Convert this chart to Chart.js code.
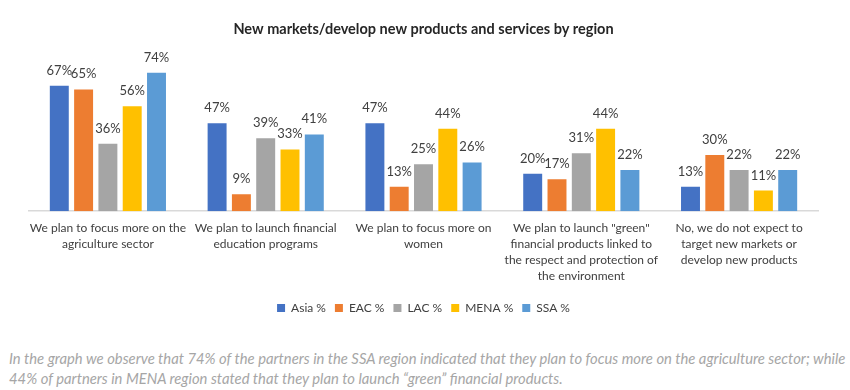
<!DOCTYPE html>
<html>
<head>
<meta charset="utf-8">
<script src="https://cdn.jsdelivr.net/npm/chart.js"></script>
<style>
body { margin: 0; background: #fff; }
#wrap { position: relative; width: 850px; height: 390px; }
#chart { position: absolute; left: 0; top: 0; }
#note { position: absolute; left: 9px; top: 348px; width: 841px; white-space: nowrap; font: italic 14.8px Lato, sans-serif; line-height: 20px; color: #a6a6a6; }
</style>
</head>
<body>
<div id="wrap">
<canvas id="chart" width="850" height="330"></canvas>
<div id="note">In the graph we observe that 74% of the partners in the SSA region indicated that they plan to focus more on the agriculture sector; while<br>44% of partners in MENA region stated that they plan to launch “green” financial products.</div>
</div>
<script>
// categories (wrapped as on the picture)
const categories = [
  ["We plan to focus more on the", "agriculture sector"],
  ["We plan to launch financial", "education programs"],
  ["We plan to focus more on", "women"],
  ["We plan to launch \"green\"", "financial products linked to", "the respect and protection of", "the environment"],
  ["No, we do not expect to", "target new markets or", "develop new products"]
];

// values per region, %
const asia = [67, 47, 47, 20, 13];
const eac = [65, 9, 13, 17, 30];
const lac = [36, 39, 25, 31, 22];
const mena = [56, 33, 44, 44, 11];
const ssa = [74, 41, 26, 22, 22];

const seriesNames = ["Asia %", "EAC %", "LAC %", "MENA %", "SSA %"];
const colors = ["#4472C4", "#ED7D31", "#A5A5A5", "#FFC000", "#5B9BD5"];

const FONT = "Lato, 'Open Sans', sans-serif";

// labels above the bars
const valueLabels = {
  id: "valueLabels",
  afterDatasetsDraw(chart) {
    const ctx = chart.ctx;
    ctx.save();
    ctx.font = "13px " + FONT;
    ctx.fillStyle = "#404040";
    ctx.textAlign = "center";
    ctx.textBaseline = "alphabetic";
    chart.data.datasets.forEach((ds, i) => {
      chart.getDatasetMeta(i).data.forEach((bar, j) => {
        ctx.fillText(ds.data[j] + "%", bar.x, bar.y - 11);
      });
    });
    ctx.restore();
  }
};

const allSeries = [asia, eac, lac, mena, ssa];

new Chart(document.getElementById("chart"), {
  type: "bar",
  data: {
    labels: categories,
    datasets: allSeries.map((vals, i) => ({
      label: seriesNames[i],
      data: vals,
      backgroundColor: colors[i],
      categoryPercentage: 0.77,
      barPercentage: 0.78
    }))
  },
  options: {
    responsive: false,
    animation: false,
    layout: { padding: { left: 29, right: 32, top: 0, bottom: 6 } },
    scales: {
      y: { display: false, min: 0, max: 80 },
      x: {
        grid: { display: false, drawTicks: false },
        border: { color: "#d9d9d9", width: 1.5 },
        ticks: {
          color: "#404040",
          font: { family: FONT, size: 12, lineHeight: 1.33 },
          padding: 9,
          maxRotation: 0,
          autoSkip: false
        }
      }
    },
    plugins: {
      title: {
        display: true,
        text: "New markets/develop new products and services by region",
        color: "#262626",
        font: { family: FONT, size: 14.5, weight: "bold" },
        padding: { top: 21, bottom: 23 }
      },
      legend: {
        position: "bottom",
        labels: {
          color: "#404040",
          font: { family: FONT, size: 12 },
          boxWidth: 8,
          boxHeight: 8,
          padding: 9
        }
      },
      tooltip: { enabled: false }
    }
  },
  plugins: [valueLabels]
});
</script>
</body>
</html>
